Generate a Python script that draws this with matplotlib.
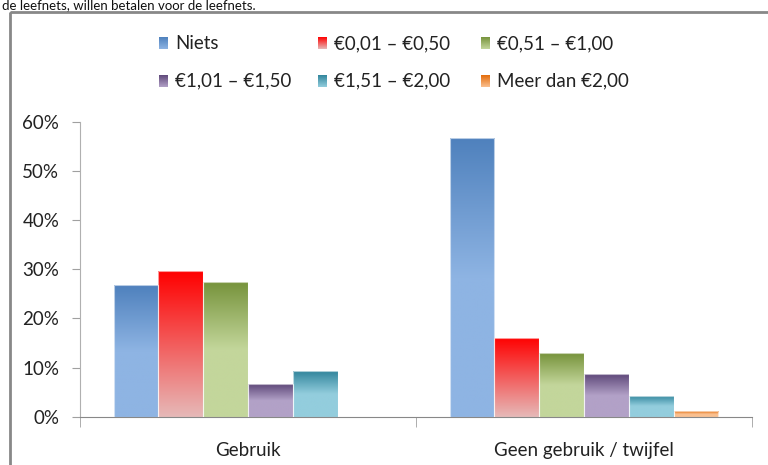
import numpy as np
import matplotlib.pyplot as plt
from matplotlib.colors import to_rgb
from matplotlib.patches import Rectangle

plt.rcParams['font.family'] = ['Lato', 'DejaVu Sans']

categories = ['Gebruik', 'Geen gebruik / twijfel']
series = ['Niets', '€0,01 – €0,50', '€0,51 – €1,00',
          '€1,01 – €1,50', '€1,51 – €2,00', 'Meer dan €2,00']
values = [
    [26.7, 56.6],   # Niets
    [29.6, 16.1],   # €0,01 – €0,50
    [27.3, 12.9],   # €0,51 – €1,00
    [6.6, 8.7],     # €1,01 – €1,50
    [9.3, 4.3],     # €1,51 – €2,00
    [0.0, 1.2],     # Meer dan €2,00
]
yticks = [0, 10, 20, 30, 40, 50, 60]

# (boven, onder, plek waar de lichte kleur begint)
colors = [
    ('#4F81BD', '#8EB4E3', 0.5),
    ('#FF0000', '#E6B9B8', 1.0),
    ('#77933C', '#C3D69B', 0.5),
    ('#5F497A', '#B2A1C7', 0.5),
    ('#31859C', '#93CDDD', 0.5),
    ('#E46C0A', '#FAC090', 0.5),
]


def gradient(top, bottom, stop, n=200):
    t = np.linspace(0, 1, n)
    f = np.clip(t / stop, 0, 1)
    c1 = np.array(to_rgb(top))
    c2 = np.array(to_rgb(bottom))
    col = c1[None, :] * (1 - f[:, None]) + c2[None, :] * f[:, None]
    return col[:, None, :]


fig = plt.figure(figsize=(7.68, 4.65), dpi=100)
ax = fig.add_axes([80 / 768, 1 - 416.7 / 465, 672 / 768, 295 / 465])

x = np.arange(len(categories))
n = len(series)
w = 0.8 / n
for i, (name, vals) in enumerate(zip(series, values)):
    top, bottom, stop = colors[i]
    bars = ax.bar(x - 0.4 + w * (i + 0.5), vals, w, color='none',
                  edgecolor='#FFFFFF', linewidth=0.8, alpha=0.6, zorder=3)
    for b in bars:
        h = b.get_height()
        if h <= 0:
            continue
        im = ax.imshow(gradient(top, bottom, stop),
                       extent=[b.get_x(), b.get_x() + b.get_width(), 0, h],
                       aspect='auto', origin='upper', zorder=2,
                       interpolation='bilinear')
        im.set_clip_path(b)

ax.set_xlim(-0.5, len(categories) - 0.5)
ax.set_ylim(0, 60)
ax.set_yticks(yticks)
ax.set_yticklabels([f'{v}%' for v in yticks], fontsize=13.5, color='#222222')
ax.set_xticks(x)
ax.set_xticklabels(categories, fontsize=13.5, color='#222222')
ax.tick_params(axis='x', length=0, pad=18)
ax.tick_params(axis='y', length=6, color='#A0A0A0', pad=9)
ax.set_xticks([-0.5, 0.5, 1.5], minor=True)
ax.tick_params(axis='x', which='minor', length=7, color='#A0A0A0')
for s in ['top', 'right']:
    ax.spines[s].set_visible(False)
ax.spines['left'].set_color('#B0B0B0')
ax.spines['bottom'].set_color('#888888')

# overlay in pixelcoordinaten voor kader, legenda en tekst
ov = fig.add_axes([0, 0, 1, 1], zorder=-1)
ov.set_xlim(0, 768)
ov.set_ylim(465, 0)
ov.axis('off')
ov.add_patch(Rectangle((10, 12), 800, 500, fill=False,
                       edgecolor='#888888', linewidth=2))
ov.text(2, 9, 'de leefnets, willen betalen voor de leefnets.',
        fontsize=9.5, va='baseline', ha='left', color='#111111')

ov2 = fig.add_axes([0, 0, 1, 1], zorder=5)
ov2.set_xlim(0, 768)
ov2.set_ylim(465, 0)
ov2.axis('off')
leg_x = [159, 318, 481]
leg_y = [43.5, 81]
for i, name in enumerate(series):
    top, bottom, stop = colors[i]
    lx = leg_x[i % 3]
    ly = leg_y[i // 3]
    ov2.imshow(gradient(top, bottom, 1.0), extent=[lx, lx + 9, ly + 6, ly - 6],
               aspect='auto', origin='upper', interpolation='bilinear')
    ov2.text(lx + 16, ly, name, fontsize=13.5, va='center', ha='left',
             color='#222222')
ov2.set_xlim(0, 768)
ov2.set_ylim(465, 0)

fig.savefig('out.png', dpi=100)
